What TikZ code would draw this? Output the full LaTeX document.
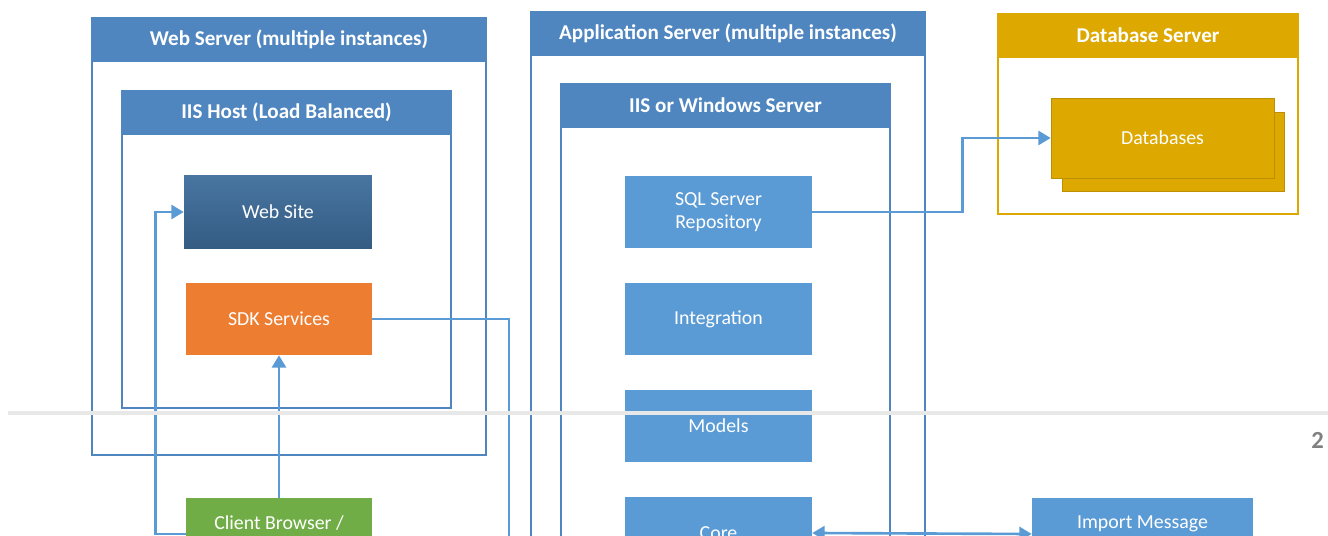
\documentclass[tikz,border=0pt]{standalone}
\usepackage{fontspec}
\setmainfont{Carlito}
\usetikzlibrary{arrows.meta}

\definecolor{hdrblue}{RGB}{79,134,192}
\definecolor{boxblue}{RGB}{91,155,213}
\definecolor{sitetop}{RGB}{72,117,161}
\definecolor{sitebot}{RGB}{52,92,131}
\definecolor{sdkorange}{RGB}{237,125,49}
\definecolor{clientgreen}{RGB}{112,173,71}
\definecolor{dbgold}{RGB}{221,168,0}
\definecolor{pagegray}{RGB}{232,232,232}

\begin{document}
\begin{tikzpicture}[x=0.02cm,y=-0.02cm,
  every node/.style={font=\fontsize{11.3}{13}\selectfont},
  frame/.style={draw=hdrblue, line width=0.9pt, fill=white, inner sep=0pt},
  hdr/.style={draw=hdrblue, line width=0.9pt, fill=hdrblue, text=white,
    font=\fontsize{12}{14}\selectfont\bfseries, minimum height=0.86cm, inner sep=0pt},
  blk/.style={fill=#1, text=white, minimum height=1.44cm, inner sep=0pt, align=center},
  arr/.style={draw=boxblue, line width=1.5pt, -{Triangle[length=7pt,width=8pt]}}]
\useasboundingbox (0,0) rectangle (1328,536);

% web server
\node[frame, minimum width=7.88cm, minimum height=8.74cm] (websrv) at (289,236.5) {};
\node[hdr, minimum width=7.88cm] (webhdr) at (289,39.5) {Web Server (multiple instances)};
\node[frame, minimum width=6.58cm, minimum height=6.34cm] (iishost) at (286.5,249.5) {};
\node[hdr, minimum width=6.58cm] (iishdr) at (286.5,112.5) {IIS Host (Load Balanced)};
\node[blk=sitebot, top color=sitetop, bottom color=sitebot, minimum width=3.76cm, minimum height=1.48cm] (website) at (278,212) {Web Site};
\node[blk=sdkorange, minimum width=3.72cm] (sdk) at (279,319) {SDK Services};
\node[blk=clientgreen, minimum width=3.72cm] (client) at (279,534) {Client Browser /\\~};

% application server
\node[frame, minimum width=7.88cm, minimum height=11.76cm] (appsrv) at (728,306) {};
\node[hdr, minimum width=7.88cm] (apphdr) at (728,33.5) {Application Server (multiple instances)};
\node[frame, minimum width=6.58cm, minimum height=10.32cm] (iiswin) at (725.5,342) {};
\node[hdr, minimum width=6.58cm] (winhdr) at (725.5,105.5) {IIS or Windows Server};
\node[blk=boxblue, minimum width=3.74cm] (sqlrepo) at (718.5,212) {SQL Server\\Repository};
\node[blk=boxblue, minimum width=3.74cm] (integ) at (718.5,319) {Integration};
\node[blk=boxblue, minimum width=3.74cm] (models) at (718.5,426) {Models};
\node[blk=boxblue, minimum width=3.74cm] (core) at (718.5,533) {Core};

% database server
\node[frame, draw=dbgold, minimum width=6cm, minimum height=4cm] (dbsrv) at (1148,114) {};
\node[hdr, draw=dbgold, fill=dbgold, minimum width=6cm] (dbhdr) at (1148,35.5) {Database Server};
\node[blk=dbgold, draw=dbgold!85!black, line width=0.4pt, minimum width=4.44cm, minimum height=1.58cm] (dbback) at (1173,151.5) {};
\node[blk=dbgold, draw=dbgold!85!black, line width=0.4pt, minimum width=4.46cm, minimum height=1.6cm] (db) at (1162.5,138) {Databases};

\node[blk=boxblue, minimum width=4.42cm] (import) at (1142.5,534) {Import Message\\~};

% connectors
\coordinate (sdkout) at (509,600);
\path[arr] (client.west) -- ++(-30,0) |- (website.west);
\path[arr] (client) -- (sdk);
\path[draw=boxblue, line width=1.5pt] (sdk.east) -| (sdkout);
\path[arr] (sqlrepo.east) -- ++(150,0) |- (db.west);
\path[arr, {Triangle[length=7pt,width=8pt]}-{Triangle[length=7pt,width=8pt]}] (core.east) -- (import.west);

% page break
\coordinate (brkl) at (8,413);
\coordinate (brkr) at (1328,413);
\path[draw=pagegray, line width=2.4pt] (brkl) -- (brkr);
\node[anchor=west, text=gray, font=\fontsize{14}{16}\selectfont\bfseries, inner sep=0pt] (pageno) at (1311,440) {2};
\end{tikzpicture}
\end{document}
